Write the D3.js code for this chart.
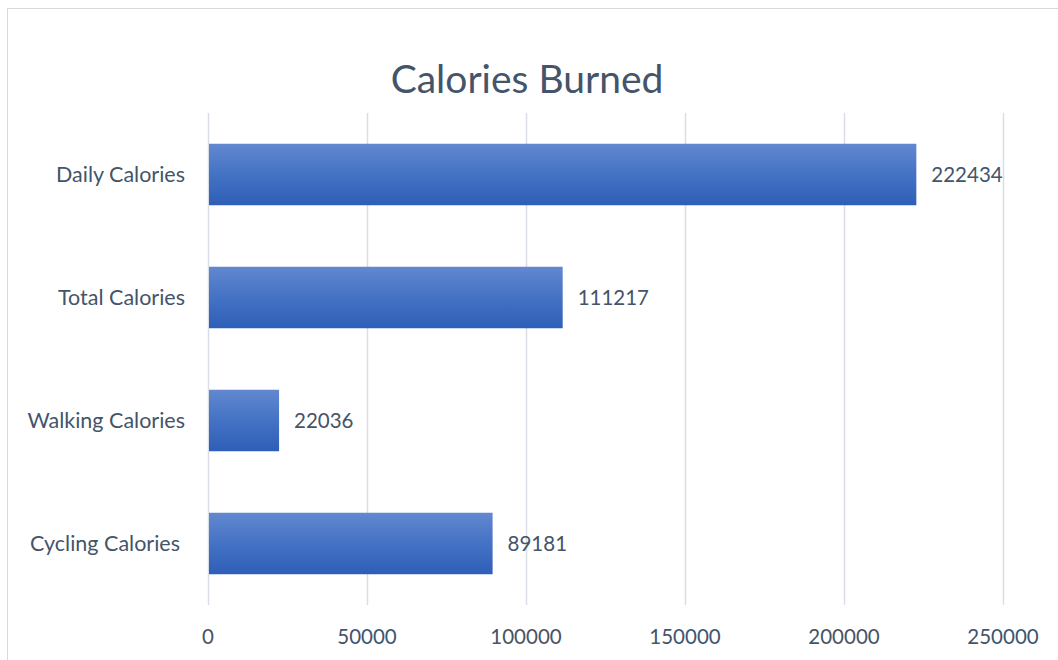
<!DOCTYPE html>
<html>
<head>
<meta charset="utf-8">
<script src="https://cdn.jsdelivr.net/npm/d3@7"></script>
<style>
  body { margin: 0; background: #fff; }
  svg { display: block; font-family: Lato, "Open Sans", sans-serif; }
</style>
</head>
<body>
<div id="chart"></div>
<script>
const categories = ["Daily Calories", "Total Calories", "Walking Calories", "Cycling Calories"]
const values = [222434, 111217, 22036, 89181]
const xTicks = [0, 50000, 100000, 150000, 200000, 250000]

function createCanvas(){
    return {
        width: 1058, height: 660, margin: {top: 113, right: 55, bottom: 55, left: 208}
    }
}

function addSvg(id, canvas){
    return d3.select(id).append("svg").attr("width", canvas.width).attr("height", canvas.height)
}

function drawChart(id){
    const canvas = createCanvas()
    const svg = addSvg(id, canvas)
    const m = canvas.margin

    // chart frame (right and bottom edges fall outside the picture)
    svg.append("rect").attr("x", 7.5).attr("y", 8.5).attr("width", 1100).attr("height", 700)
      .attr("fill", "#fff").attr("stroke", "#d9d9d9").attr("stroke-width", 1)

    const defs = svg.append("defs")
    const grad = defs.append("linearGradient").attr("id", "barGrad")
      .attr("x1", 0).attr("y1", 0).attr("x2", 0).attr("y2", 1)
    grad.append("stop").attr("offset", "0%").attr("stop-color", "#6288d0")
    grad.append("stop").attr("offset", "50%").attr("stop-color", "#4472c4")
    grad.append("stop").attr("offset", "100%").attr("stop-color", "#2e5eb7")

    const x = d3.scaleLinear().domain([0, 250000]).range([m.left, 1003])
    const y = d3.scaleBand().domain(categories).range([m.top, 605]).paddingInner(0.5).paddingOuter(0.25)

    // gridlines
    svg.append("g").selectAll("line").data(xTicks).enter().append("line")
      .attr("x1", d => x(d) + 0.5).attr("x2", d => x(d) + 0.5)
      .attr("y1", m.top).attr("y2", 605)
      .attr("stroke", "#d9dde5").attr("stroke-width", 1.5)

    // title
    svg.append("text").attr("x", 527).attr("y", 93).attr("text-anchor", "middle")
      .attr("font-size", "39px").attr("fill", "#44546a").text("Calories Burned")

    const data = categories.map((c, i) => ({cat: c, value: values[i]}))

    svg.append("g").selectAll("rect").data(data).enter().append("rect")
      .attr("x", x(0) + 1).attr("y", d => y(d.cat))
      .attr("width", d => x(d.value) - x(0)).attr("height", y.bandwidth())
      .attr("fill", "url(#barGrad)")

    // value labels
    svg.append("g").selectAll("text").data(data).enter().append("text")
      .attr("x", d => x(d.value) + 16).attr("y", d => y(d.cat) + y.bandwidth() / 2)
      .attr("dy", "0.35em").attr("font-size", "20.5px").attr("fill", "#44546a")
      .text(d => d.value)

    // category labels
    svg.append("g").selectAll("text").data(data).enter().append("text")
      .attr("x", d => d.cat === "Cycling Calories" ? 180 : 185)
      .attr("y", d => y(d.cat) + y.bandwidth() / 2)
      .attr("dy", "0.35em").attr("text-anchor", "end")
      .attr("font-size", "21.5px").attr("fill", "#44546a").text(d => d.cat)

    // x tick labels
    svg.append("g").selectAll("text").data(xTicks).enter().append("text")
      .attr("x", d => x(d)).attr("y", 637).attr("dy", "0.35em")
      .attr("text-anchor", "middle").attr("font-size", "20.5px").attr("fill", "#44546a")
      .text(d => d)
}

drawChart("#chart")
</script>
</body>
</html>
